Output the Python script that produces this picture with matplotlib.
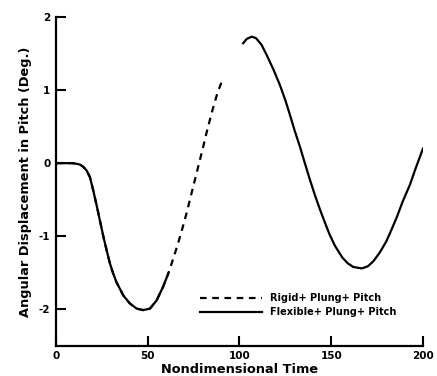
import matplotlib
matplotlib.use("Agg")
from matplotlib import pyplot as plt
import numpy as np

plt.rcParams['font.family'] = ['DejaVu Sans']
plt.rcParams['font.weight'] = 'bold'
plt.rcParams['axes.unicode_minus'] = False

# flexible + plunge + pitch, first part
flex_t1 = [0, 5, 9, 11.5, 13.1, 14.9, 16.7, 18.5, 20.3, 22.2, 24.0, 25.8, 27.6, 29.4,
           31.2, 33.0, 36.7, 40.3, 44.0, 47.5, 51.2, 54.8, 58.4, 61.2]
flex_y1 = [0, 0, 0, -0.01, -0.02, -0.05, -0.1, -0.19, -0.37, -0.58, -0.79, -1.0,
           -1.19, -1.37, -1.51, -1.63, -1.81, -1.92, -1.99, -2.01, -1.99, -1.88,
           -1.69, -1.51]

# flexible + plunge + pitch, second part
flex_t2 = [102, 104, 106.7, 109, 112, 115, 118.5, 122, 125, 127.5, 130, 133, 135.5,
           138.3, 141, 143.8, 146.5, 149, 152, 156, 159, 162, 166.7, 170, 173, 176.5,
           180, 183, 185.7, 189, 192.8, 196, 200]
flex_y2 = [1.64, 1.7, 1.73, 1.71, 1.62, 1.47, 1.28, 1.07, 0.86, 0.66, 0.45, 0.22, 0.01,
           -0.22, -0.43, -0.63, -0.81, -0.97, -1.13, -1.29, -1.37, -1.42, -1.44, -1.41,
           -1.34, -1.22, -1.07, -0.9, -0.74, -0.52, -0.3, -0.07, 0.2]

# rigid + plunge + pitch
rigid_t = flex_t1 + [64, 66.5, 68.6, 71, 73, 75, 78, 80, 82, 85, 88, 91]
rigid_y = flex_y1 + [-1.3, -1.1, -0.92, -0.7, -0.5, -0.3, 0.0, 0.2, 0.41, 0.7, 0.96, 1.16]

xticks = [0, 50, 100, 150, 200]
yticks = [-2, -1, 0, 1, 2]

fig = plt.figure(figsize=(4.37, 3.76), dpi=100)
ax = fig.add_axes([0.128, 0.080, 0.840, 0.875])

ax.plot(rigid_t, rigid_y, color='black', lw=1.6, ls=(0, (3, 2.5)),
        label='Rigid+ Plung+ Pitch')
ax.plot(flex_t1, flex_y1, color='black', lw=1.6, label='Flexible+ Plung+ Pitch')
ax.plot(flex_t2, flex_y2, color='black', lw=1.6)

ax.set_xlim(0, 200)
ax.set_ylim(-2.5, 2)
ax.set_xticks(xticks)
ax.set_yticks(yticks)
ax.spines['top'].set_visible(False)
ax.spines['right'].set_visible(False)
ax.spines['left'].set_linewidth(1.6)
ax.spines['bottom'].set_linewidth(1.6)
ax.tick_params(direction='in', length=7, width=1.5, labelsize=7.5, pad=4)

ax.set_xlabel('Nondimensional Time', fontsize=9.3, fontweight='bold', labelpad=1)
ax.set_ylabel('Angular Displacement in Pitch (Deg.)', fontsize=9.3, fontweight='bold',
              labelpad=5)

leg = ax.legend(loc='upper left', bbox_to_anchor=(200 / 437, 1 - 293 / 376),
                bbox_transform=fig.transFigure, frameon=False, borderpad=0,
                borderaxespad=0, handlelength=6.4, labelspacing=0.45,
                handletextpad=0.8, prop={'weight': 'bold', 'size': 7})

fig.savefig('out.png', dpi=100)
